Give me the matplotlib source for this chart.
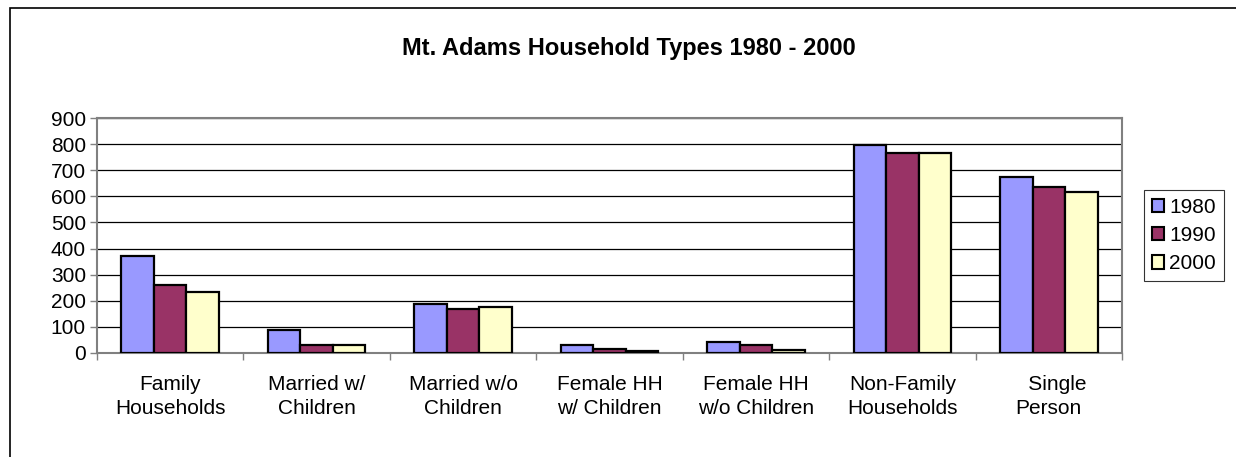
import numpy as np
import matplotlib
matplotlib.use("Agg")
import matplotlib.pyplot as plt
from matplotlib.patches import Rectangle

plt.rcParams['font.family'] = ['Liberation Sans', 'DejaVu Sans']

categories = ["Family\nHouseholds", "Married w/\nChildren", "Married w/o\nChildren",
              "Female HH\nw/ Children", "Female HH\nw/o Children",
              "Non-Family\nHouseholds", "   Single\nPerson"]
years = ["1980", "1990", "2000"]
v1980 = [370, 87, 188, 29, 41, 795, 674]
v1990 = [262, 29, 169, 15, 31, 766, 636]
v2000 = [232, 30, 176, 6, 11, 767, 617]
colors = ["#9999FF", "#993366", "#FFFFCC"]

fig = plt.figure(figsize=(12.36, 4.57), dpi=100)
ax = fig.add_axes([97/1236, 1-353/457, (1122-97)/1236, (353-118)/457])

x = np.arange(len(categories))
w = 0.222
for i, (vals, c, lab) in enumerate(zip([v1980, v1990, v2000], colors, years)):
    ax.bar(x + (i-1)*w, vals, width=w, color=c, edgecolor="black", linewidth=1.6,
           label=lab, zorder=3)

ax.set_xlim(-0.5, len(categories)-0.5)
ax.set_ylim(0, 900)
ax.set_yticks(range(0, 901, 100))
ax.yaxis.grid(True, color="black", linewidth=0.9, zorder=0)
ax.set_xticks(x)
ax.set_xticklabels(categories, fontsize=15, linespacing=1.35)
ax.set_xticks(np.arange(-0.5, len(categories), 1), minor=True)
ax.tick_params(axis="x", which="major", length=0, pad=16)
ax.tick_params(axis="x", which="minor", length=5, color="#808080", width=1)
ax.tick_params(axis="y", length=5, color="#808080", width=1, labelsize=15, pad=3)
for s in ax.spines.values():
    s.set_color("#808080")
    s.set_linewidth(1.5)

fig.text(0.509, 0.893, "Mt. Adams Household Types 1980 - 2000", ha="center", va="center",
         fontsize=17, fontweight="bold")

leg = fig.legend(loc="center", bbox_to_anchor=(1184/1236, 1-235.5/457), fontsize=15,
                 frameon=True, fancybox=False, edgecolor="black", handlelength=0.6,
                 handleheight=0.6, handletextpad=0.25, borderpad=0.35, labelspacing=0.45,
                 borderaxespad=0)
leg.get_frame().set_linewidth(0.8)
for h in leg.legend_handles:
    h.set_linewidth(1.5)

fig.patches.append(Rectangle((10/1236, -0.2), 1.2, 1.2 - 8/457, transform=fig.transFigure,
                             fill=False, edgecolor="black", linewidth=1.2))

fig.savefig("out.png", dpi=100)
